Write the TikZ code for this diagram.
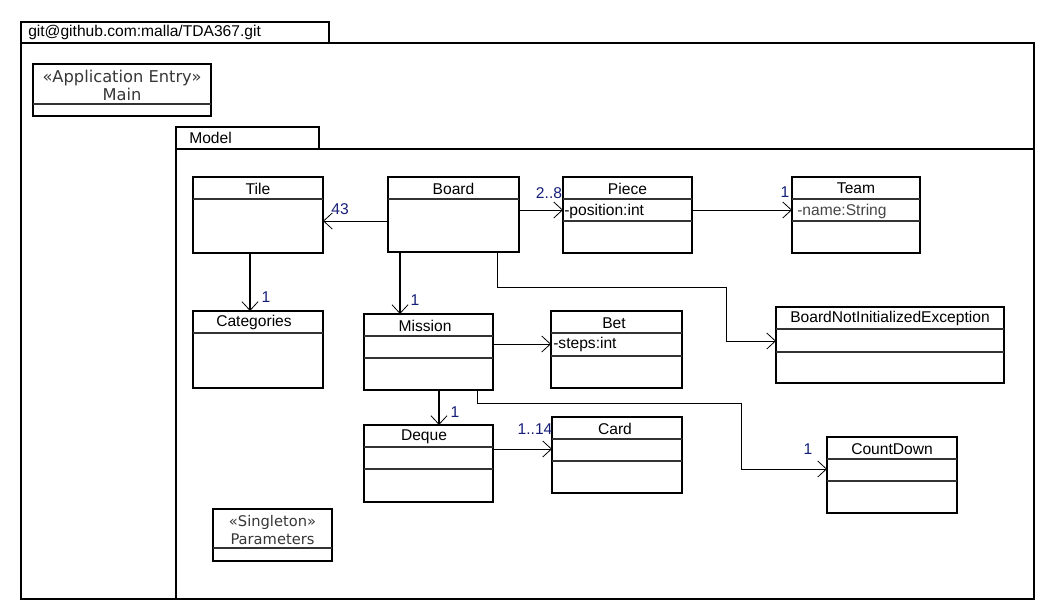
\documentclass[tikz,border=0pt]{standalone}
\usepackage{fontspec}
\setmainfont{Liberation Sans}
\newfontfamily\djv{DejaVu Sans}
\usetikzlibrary{arrows.meta}
\definecolor{navy}{RGB}{20,30,120}
\definecolor{stereo}{RGB}{55,55,55}
\definecolor{attrgrey}{RGB}{70,70,70}
\newcommand\umlbox[6]{\node[frame,#6,minimum width={(#4-#2)*0.75pt},minimum height={(#5-#3)*0.75pt},anchor=north west] (#1) at (#2,#3) {};}
\newcommand\umlsep[2]{\draw[sepline] (#1.west |- 0,#2) -- (#1.east |- 0,#2);}
\begin{document}
\begin{tikzpicture}[x=0.75pt,y=-0.75pt,
  frame/.style={draw=black,line width=0.9pt,inner sep=0pt,outer sep=0pt},
  pkg/.style={draw=black,line width=1pt,inner sep=0pt,outer sep=0pt},
  sepline/.style={draw=black!80,line width=0.8pt},
  ctitle/.style={font=\fontsize{11.7}{14}\selectfont,inner sep=0pt},
  attr/.style={font=\fontsize{11.7}{14}\selectfont,inner sep=0pt,anchor=west},
  stereobox/.style={font=\djv\fontsize{11}{13.5}\selectfont,text=stereo,align=center,inner sep=0pt},
  mult/.style={font=\fontsize{11.7}{14}\selectfont,text=navy,inner sep=0pt},
  assoc/.style={draw=black,line width=0.75pt,-{Straight Barb[length=6.5pt,width=12pt,line width=0.6pt]}},
  thickassoc/.style={assoc,line width=1.4pt}]
\fill[white] (0,0) rectangle (1063,613);
\useasboundingbox (0,0) rectangle (1063,613);
% packages
\umlbox{outertab}{21}{22}{329}{43}{pkg}
\umlbox{outer}{21}{43}{1034}{599}{pkg}
\node[ctitle,anchor=west] (outertitle) at (28,32) {git@github.com:malla/TDA367.git};
\umlbox{modeltab}{176}{127}{319}{149}{pkg}
\umlbox{model}{176}{149}{1034}{599}{pkg}
\node[ctitle,anchor=west] (modeltitle) at (189,138) {Model};
% Main
\umlbox{main}{33}{64}{211}{116}{}
\umlsep{main}{104}
\node[stereobox,font=\djv\fontsize{12.2}{13.5}\selectfont] (maint) at (122,85) {«Application Entry»\\Main};
% Parameters
\umlbox{params}{213}{509}{332}{561}{}
\umlsep{params}{548}
\node[stereobox] (paramst) at (272.5,530) {«Singleton»\\Parameters};
% classes
\umlbox{tile}{193}{177}{323}{253}{}
\umlsep{tile}{199}
\node[ctitle] (tilet) at (258,188.5) {Tile};
\umlbox{board}{388}{177}{519}{252}{}
\umlsep{board}{199}
\node[ctitle] (boardt) at (453.5,188.5) {Board};
\umlbox{piece}{563}{177}{692}{253}{}
\umlsep{piece}{199}
\umlsep{piece}{221}
\node[ctitle] (piecet) at (627.5,188.5) {Piece};
\node[attr] (piecea) at (564,211) {-position:int};
\umlbox{team}{792}{177}{920}{253}{}
\umlsep{team}{199}
\umlsep{team}{221}
\node[ctitle] (teamt) at (856,188.5) {Team};
\node[attr,text=attrgrey] (teama) at (797,211) {-name:String};
\umlbox{categories}{193}{311}{323}{388}{}
\umlsep{categories}{333}
\node[ctitle] (catt) at (254,322.5) {Categories};
\umlbox{mission}{364}{314}{493}{390}{}
\umlsep{mission}{336}
\umlsep{mission}{358}
\node[ctitle] (missiont) at (425,326) {Mission};
\umlbox{bet}{551}{311}{682}{388}{}
\umlsep{bet}{333}
\umlsep{bet}{356}
\node[ctitle] (bett) at (614,323) {Bet};
\node[attr] (beta) at (553,344.5) {-steps:int};
\umlbox{bnie}{776}{307}{1004}{383}{line width=1.3pt}
\umlsep{bnie}{329}
\umlsep{bnie}{352}
\node[ctitle] (bniet) at (890,318) {BoardNotInitializedException};
\umlbox{deque}{364}{425}{493}{502}{}
\umlsep{deque}{447}
\umlsep{deque}{469}
\node[ctitle] (dequet) at (424,437) {Deque};
\umlbox{card}{552}{417}{682}{493}{}
\umlsep{card}{439}
\umlsep{card}{461}
\node[ctitle] (cardt) at (615,429) {Card};
\umlbox{countdown}{827}{437}{957}{513}{}
\umlsep{countdown}{459}
\umlsep{countdown}{481}
\node[ctitle] (countdownt) at (892,449) {CountDown};
% associations
\draw[assoc] (board.west |- 0,221) -- (tile.east |- 0,221);
\node[mult] (m43) at (340,209) {43};
\draw[thickassoc] (tile.south -| 250,0) -- (categories.north -| 250,0);
\node[mult] (m1a) at (266,297) {1};
\draw[thickassoc] (board.south -| 400,0) -- (mission.north -| 400,0);
\node[mult] (m1b) at (415,300) {1};
\draw[assoc] (board.east |- 0,210) -- (piece.west |- 0,210);
\node[mult] (m28) at (549,193) {2..8};
\draw[assoc] (piece.east |- 0,210) -- (team.west |- 0,210);
\node[mult] (m1c) at (785,192) {1};
\draw[assoc] (board.south -| 497,0) |- (726,287) |- (bnie.west |- 0,341);
\draw[assoc] (mission.east |- 0,344) -- (bet.west |- 0,344);
\draw[thickassoc] (mission.south -| 439,0) -- (deque.north -| 439,0);
\node[mult] (m1d) at (455,412) {1};
\draw[assoc] (mission.south -| 477,0) |- (741,403) |- (countdown.west |- 0,469);
\node[mult] (m1e) at (808,449) {1};
\draw[assoc] (deque.east |- 0,449) -- (card.west |- 0,449);
\node[mult] (m114) at (535,429) {1..14};
\end{tikzpicture}
\end{document}
